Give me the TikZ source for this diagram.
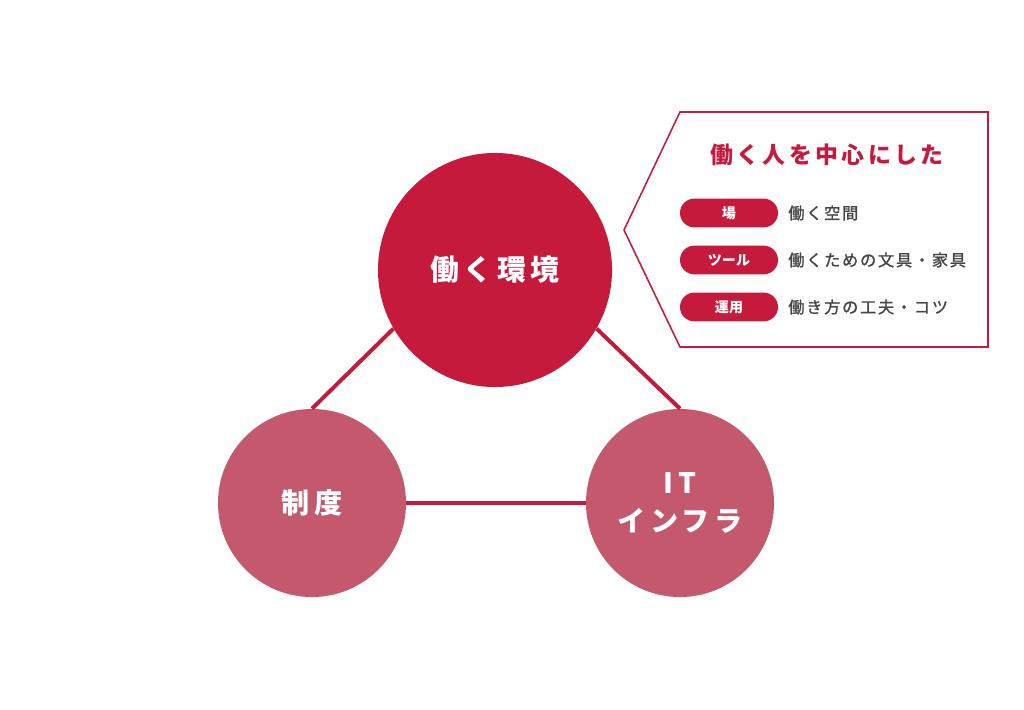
\documentclass[tikz,border=0pt]{standalone}
\usepackage{fontspec}
\usepackage{tikz}
\newfontfamily\jp{Noto Sans CJK JP}
\newfontfamily\jpwide[LetterSpace=15]{Noto Sans CJK JP}
\newfontfamily\jpitem[LetterSpace=11, FakeBold=1.3]{Noto Sans CJK JP}
\definecolor{crimson}{RGB}{197,26,60}
\definecolor{rose}{RGB}{196,88,108}
\definecolor{itemgray}{RGB}{70,70,70}

\begin{document}
\begin{tikzpicture}[
    x=0.025cm, y=-0.025cm,
    every node/.style={font=\jp},
    maincircle/.style={circle, fill=crimson, inner sep=0pt, minimum size=5.85cm, text=white, font=\jpwide\bfseries\fontsize{20.5}{24}\selectfont},
    subcircle/.style={circle, fill=rose, inner sep=0pt, minimum size=4.7cm, text=white, align=center, font=\jpwide\bfseries\fontsize{20}{27}\selectfont},
    link/.style={draw=crimson, line width=2.8pt},
    pill/.style={fill=crimson, rounded corners=0.36cm, minimum width=2.45cm, minimum height=0.72cm, inner sep=0pt, text=white, font=\jp\bfseries\fontsize{10}{12}\selectfont},
    item/.style={anchor=west, text=itemgray, inner sep=0pt, font=\jpitem\fontsize{11.5}{13}\selectfont}
]
\useasboundingbox (0,0) rectangle (1024,709);

% Circles
\node[maincircle] (env) at (495,270) {働く環境};
\node[subcircle] (system) at (312,503) {制度};
\node[subcircle] (infra) at (680,503) {IT\\インフラ};

% Links
\draw[link] (system.north) -- (env.210);
\draw[link] (infra.north) -- (env.330);
\draw[link] (system) -- (infra);

% Callout
\draw[crimson, line width=1.1pt] (680,112) -- (988,112) -- (988,347) -- (680,347) -- (624,230) -- cycle;
\node[text=crimson, font=\jpwide\bfseries\fontsize{16.3}{20}\selectfont] (title) at (827,155) {働く人を中心にした};

% Items
\node[pill] (place) at (729,213) {場};
\node[item] (placetext) at (788,213) {働く空間};
\node[pill] (tool) at (729,260) {ツール};
\node[item] (tooltext) at (788,260) {働くための文具・家具};
\node[pill] (use) at (729,307) {運用};
\node[item] (usetext) at (788,307) {働き方の工夫・コツ};

\end{tikzpicture}
\end{document}
